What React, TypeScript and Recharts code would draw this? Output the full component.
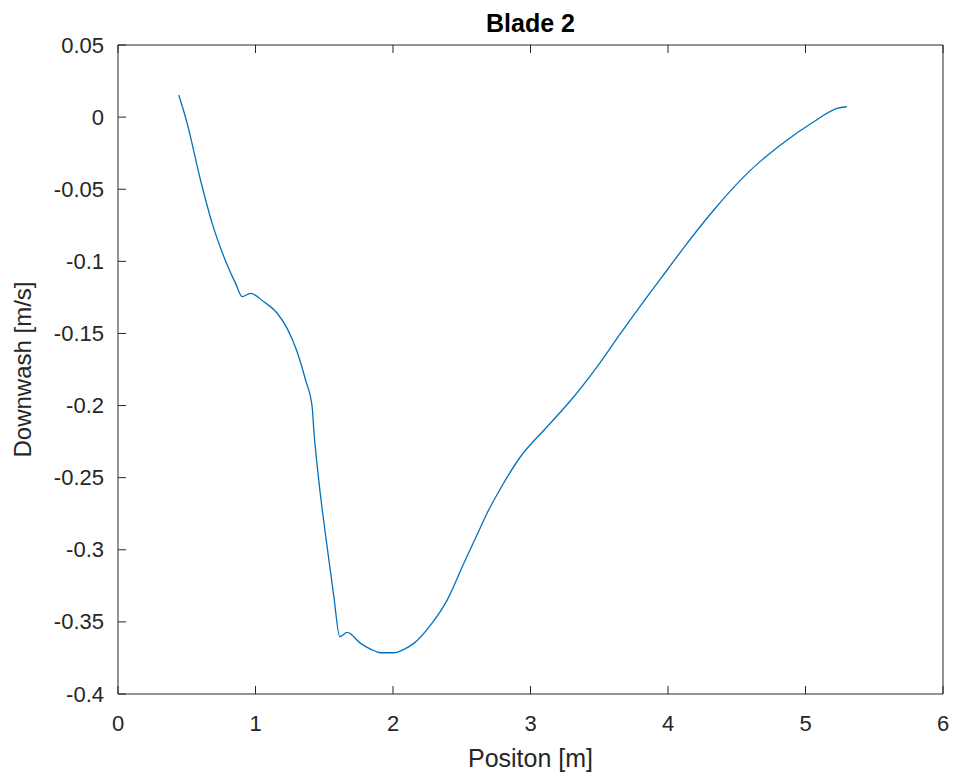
import { LineChart, Line, XAxis, YAxis } from 'recharts';

// Spanwise downwash along blade 2
const position = [
    0.442, 0.503, 0.6, 0.685, 0.77, 0.855, 0.903, 0.964, 1.06, 1.158,
    1.23, 1.3, 1.364, 1.412, 1.424, 1.46, 1.521, 1.57, 1.613, 1.667,
    1.764, 1.84, 1.909, 2.006, 2.08, 2.151, 2.273, 2.394, 2.515, 2.636,
    2.685, 2.782, 2.927, 3.121, 3.315, 3.485, 3.655, 3.849, 3.994, 4.115,
    4.333, 4.576, 4.818, 5.06, 5.23, 5.3,
];
const downwash = [
    0.0153, -0.0043, -0.0436, -0.0737, -0.0968, -0.1153, -0.1245, -0.1222, -0.128, -0.136,
    -0.1465, -0.162, -0.1823, -0.2008, -0.217, -0.2517, -0.298, -0.3326, -0.3603, -0.3573,
    -0.3649, -0.369, -0.3714, -0.3714, -0.369, -0.3649, -0.3522, -0.3349, -0.3094, -0.2845,
    -0.2745, -0.2575, -0.2355, -0.2147, -0.1939, -0.173, -0.15, -0.1245, -0.106, -0.0905,
    -0.0644, -0.039, -0.0193, -0.0032, 0.0061, 0.0072,
];

const xTicks = [0, 1, 2, 3, 4, 5, 6];
const yTicks = [0.05, 0, -0.05, -0.1, -0.15, -0.2, -0.25, -0.3, -0.35, -0.4];

const data = position.map((x, i) => ({ x, w: downwash[i] }));

const AXIS = '#262626';
const FONT = '"Liberation Sans", Arial, Helvetica, sans-serif';
// negative size turns the tick marks inward, margin brings label anchor back to the axis
const TICK_SIZE = -8;
const TICK_MARGIN = 8;

const fmt = (v: number) => String(Number(v.toFixed(2)));

const BottomTick = ({ x, y, payload }: any) => (
    <text x={x} y={y + 29} textAnchor="middle" dominantBaseline="central"
        fill={AXIS} fontSize={22} fontFamily={FONT}>{fmt(payload.value)}</text>
);
const LeftTick = ({ x, y, payload }: any) => (
    <text x={x - 14} y={y} textAnchor="end" dominantBaseline="central"
        fill={AXIS} fontSize={22} fontFamily={FONT}>{fmt(payload.value)}</text>
);
const NoTick = () => <g />;

const TitleLabel = ({ viewBox }: any) => (
    <text x={viewBox.x + viewBox.width / 2} y={viewBox.y + viewBox.height - 22} textAnchor="middle"
        dominantBaseline="central" fontWeight="bold" fill="#000" fontSize={25} fontFamily={FONT}>
        Blade 2
    </text>
);
const XLabel = ({ viewBox }: any) => (
    <text x={viewBox.x + viewBox.width / 2} y={viewBox.y + 64} textAnchor="middle"
        dominantBaseline="central" fill={AXIS} fontSize={25} fontFamily={FONT}>
        Positon [m]
    </text>
);
const YLabel = ({ viewBox }: any) => {
    const cx = viewBox.x + 22;
    const cy = viewBox.y + viewBox.height / 2;
    return (
        <text x={cx} y={cy} transform={`rotate(-90 ${cx} ${cy})`} textAnchor="middle"
            dominantBaseline="central" fill={AXIS} fontSize={24} fontFamily={FONT}>
            Downwash [m/s]
        </text>
    );
};

export default function App() {
    return (
        <div style={{ position: 'absolute', left: 0, top: 0, width: 954, height: 779, background: '#fff' }}>
            <LineChart width={954} height={779} data={data}
                margin={{ top: 44, right: 10, bottom: 0, left: 0 }}>
                <XAxis xAxisId="bottom" dataKey="x" type="number" domain={[0, 6]} ticks={xTicks}
                    height={85} tickSize={TICK_SIZE} tickMargin={TICK_MARGIN}
                    tickLine={{ stroke: AXIS }} axisLine={{ stroke: AXIS }}
                    tick={<BottomTick />} label={<XLabel />} />
                <XAxis xAxisId="top" orientation="top" dataKey="x" type="number" domain={[0, 6]}
                    ticks={xTicks} height={1} tickSize={TICK_SIZE} tickMargin={TICK_MARGIN}
                    tickLine={{ stroke: AXIS }} axisLine={{ stroke: AXIS }}
                    tick={<NoTick />} label={<TitleLabel />} />
                <YAxis yAxisId="left" type="number" domain={[-0.4, 0.05]} ticks={yTicks}
                    width={118} tickSize={TICK_SIZE} tickMargin={TICK_MARGIN}
                    tickLine={{ stroke: AXIS }} axisLine={{ stroke: AXIS }}
                    tick={<LeftTick />} label={<YLabel />} />
                <YAxis yAxisId="right" orientation="right" type="number" domain={[-0.4, 0.05]}
                    ticks={yTicks} width={1} tickSize={TICK_SIZE} tickMargin={TICK_MARGIN}
                    tickLine={{ stroke: AXIS }} axisLine={{ stroke: AXIS }} tick={<NoTick />} />
                <Line xAxisId="bottom" yAxisId="left" dataKey="w" type="monotone" stroke="#0072BD"
                    strokeWidth={1.3} dot={false} isAnimationActive={false} />
            </LineChart>
        </div>
    );
}
